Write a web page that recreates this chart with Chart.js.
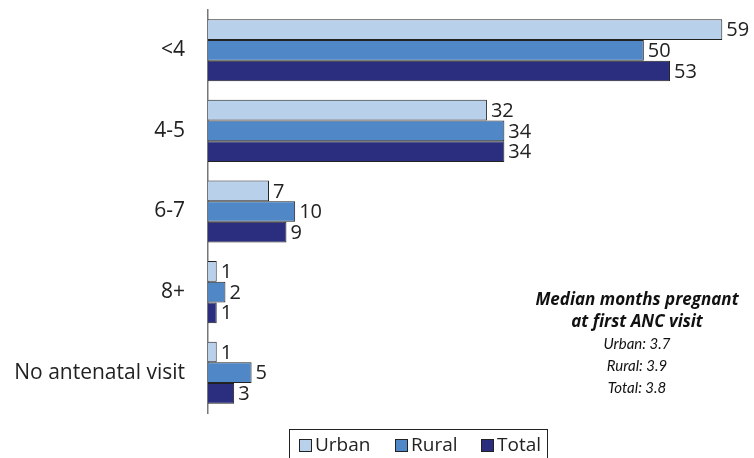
<!DOCTYPE html>
<html>
<head>
<meta charset="utf-8">
<script src="https://cdn.jsdelivr.net/npm/chart.js@4"></script>
<style>
  html, body { margin:0; padding:0; background:#fff; overflow:hidden; }
  #wrap { position:relative; width:754px; height:458px; }
  canvas { display:block; }
  #legend { position:absolute; left:289px; top:429px; width:259px; height:40px; border:1.5px solid #222; box-sizing:border-box;
            font-family: "Open Sans", "Liberation Sans", sans-serif; font-size:19px; color:#222; }
  #legend span.item { position:absolute; top:1px; line-height:26px; white-space:nowrap; }
  #legend i { display:inline-block; width:11px; height:11px; border:1px solid #222; margin-right:3px; vertical-align:-1px; }
  #note { position:absolute; left:520px; top:288px; width:234px; text-align:center; font-family: "Open Sans", "Liberation Sans", sans-serif; color:#111; }
  #note .b { font-weight:bold; font-style:italic; font-size:17px; line-height:22px; }
  #note .r { font-family: Lato, "Open Sans", sans-serif; font-style:italic; font-size:15px; line-height:22px; }
</style>
</head>
<body>
<div id="wrap">
  <canvas id="c" width="754" height="458"></canvas>
  <div id="legend"></div>
  <div id="note">
    <div class="b">Median months pregnant</div>
    <div class="b">at first ANC visit</div>
    <div class="r">Urban: 3.7</div>
    <div class="r">Rural: 3.9</div>
    <div class="r">Total: 3.8</div>
  </div>
</div>
<script>
const categories = ["<4", "4-5", "6-7", "8+", "No antenatal visit"];
const seriesNames = ["Urban", "Rural", "Total"];
const urban = [59, 32, 7, 1, 1];
const rural = [50, 34, 10, 2, 5];
const total = [53, 34, 9, 1, 3];
const colors = ["#B9D0EB", "#4F87C7", "#2B2E7E"];
const FONT = '"Open Sans", "Liberation Sans", sans-serif';

const valueLabels = {
  id: 'valueLabels',
  afterDatasetsDraw(chart) {
    const ctx = chart.ctx;
    ctx.save();
    ctx.font = '20px ' + FONT;
    ctx.fillStyle = '#222';
    ctx.textAlign = 'left';
    ctx.textBaseline = 'middle';
    chart.data.datasets.forEach((ds, i) => {
      chart.getDatasetMeta(i).data.forEach((el, j) => {
        ctx.fillText(String(ds.data[j]), el.x + 4, el.y + 1);
      });
    });
    ctx.restore();
  }
};

const sets = [urban, rural, total];
new Chart(document.getElementById('c'), {
  type: 'bar',
  data: {
    labels: categories,
    datasets: seriesNames.map((n, i) => ({
      label: n,
      data: sets[i],
      backgroundColor: colors[i],
      borderColor: '#222',
      borderWidth: 1,
      borderSkipped: 'start',
      categoryPercentage: 0.77,
      barPercentage: 1.0
    }))
  },
  options: {
    indexAxis: 'y',
    responsive: false,
    animation: false,
    devicePixelRatio: 1,
    layout: { padding: { left: 8, right: 23, top: 10, bottom: 45 } },
    plugins: { legend: { display: false }, tooltip: { enabled: false } },
    scales: {
      x: { min: 0, max: 60, display: false },
      y: {
        afterFit(s) { s.width = 200; s.paddingTop = 0; s.paddingBottom = 0; },
        grid: { display: false, drawTicks: false },
        border: { display: true, color: '#777', width: 1.5 },
        ticks: { padding: 23, color: '#222', font: { family: FONT, size: 21 } }
      }
    }
  },
  plugins: [valueLabels]
});

const lg = document.getElementById('legend');
const lefts = [9, 105, 191];
seriesNames.forEach((n, i) => {
  const s = document.createElement('span');
  s.className = 'item';
  s.style.left = lefts[i] + 'px';
  s.innerHTML = '<i style="background:' + colors[i] + '"></i>' + n;
  lg.appendChild(s);
});
</script>
</body>
</html>
